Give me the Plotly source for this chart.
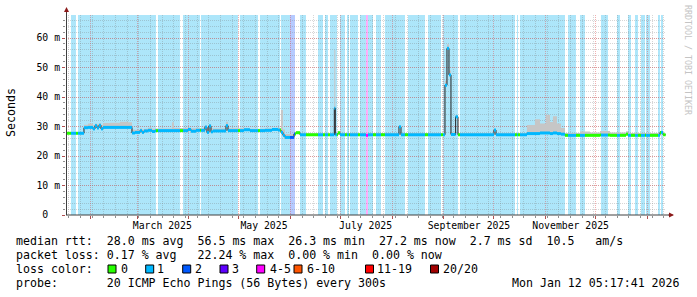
import bisect
import pandas as pd
import plotly.graph_objects as go

MONO = "DejaVu Sans Mono"
W, H = 697, 297
ML, MR, MT, MB = 66, 31, 15, 82
PW, PH = W - ML - MR, H - MT - MB

T_START = "2025-01-17 05:17:41"
T_END = "2026-01-12 05:17:41"
YEAR0 = pd.Timestamp("2025-01-01")

# ---- loss classes -------------------------------------------------------
loss_labels = ["0", "1", "2", "3", "4-5", "6-10", "11-19", "20/20"]
loss_colors = ["#26ff00", "#00b8ff", "#0059ff", "#5e00ff", "#ff00ff", "#ff5500", "#ff0000", "#a10000"]
loss_bg = {1: "rgb(173,230,250)", 2: "rgb(182,202,255)", 4: "rgb(255,172,250)"}

# ---- background loss bands (day of year 2025, 0 = Jan 1) ----------------
band_start = [19.2, 23.4, 71.4, 86.4, 97.2, 120.6, 132.6, 145.2, 150.6, 156.6,
              167.4, 171.6, 174.6, 180.6, 184.8, 186.6, 192.6, 196.2, 197.4, 202.2,
              207.6, 221.4, 233.4, 242.4, 252.6, 286.8, 288.6, 317.4, 324.6, 337.2,
              346.8, 353.4, 357.6, 361.2, 364.2, 371.4, 373.2]
band_end = [22.2, 70.2, 84.6, 96.6, 119.4, 131.4, 144.6, 150.6, 153.6, 160.2,
            170.4, 173.4, 178.8, 183.6, 186.0, 191.4, 196.2, 197.4, 200.4, 205.2,
            219.6, 231.6, 241.2, 251.4, 285.6, 287.4, 315.6, 322.2, 327.6, 341.4,
            348.6, 355.2, 359.4, 363.6, 366.6, 372.6, 374.4]
band_loss = [1, 1, 1, 1, 1, 1, 1, 1, 2, 1,
             1, 1, 1, 1, 1, 1, 1, 4, 1, 1,
             1, 1, 1, 1, 1, 1, 1, 1, 1, 1,
             1, 1, 1, 1, 1, 1, 1]

# ---- median rtt (ms) and smoke top (ms) --------------------------------
med_day = [16.8, 27.0, 29.4, 32.4, 33.6, 34.8, 36.0, 37.2, 38.4, 42.6,
           48.6, 53.4, 55.8, 57.6, 60.6, 61.8, 63.0, 65.4, 67.8, 69.6,
           79.8, 81.0, 89.4, 91.2, 94.2, 99.6, 100.8, 102.0, 103.2, 104.4,
           112.2, 113.4, 123.0, 126.6, 135.6, 139.8, 143.4, 145.2, 146.4, 147.6,
           153.0, 154.2, 156.6, 177.2, 177.8, 179.4, 180.6, 196.2, 197.4, 216.0,
           217.2, 243.6, 244.8, 246.0, 247.2, 250.0, 251.4, 273.0, 274.2, 292.8,
           297.6, 300.6, 304.2, 306.6, 308.4, 310.8, 313.2, 315.6, 324.6, 330.6,
           336.6, 342.6, 352.2, 353.4, 372.6, 374.4]
med_ms = [27.7, 29.6, 29.7, 29.2, 30.3, 29.5, 30.4, 29.2, 29.7, 29.7,
          29.7, 29.7, 27.8, 28.0, 28.6, 28.0, 28.5, 28.7, 28.3, 28.6,
          28.6, 28.6, 29.0, 28.4, 28.7, 29.8, 28.0, 30.2, 28.2, 28.5,
          30.3, 28.6, 28.9, 28.6, 28.7, 29.0, 28.8, 28.0, 27.0, 26.3,
          27.5, 27.9, 27.2, 36.2, 27.2, 27.9, 27.2, 27.0, 27.2, 29.9,
          27.2, 44.0, 56.5, 47.5, 27.3, 33.3, 27.2, 28.8, 27.2, 27.6,
          27.6, 27.8, 27.8, 27.6, 27.8, 27.6, 27.4, 27.0, 27.0, 27.0,
          27.1, 27.0, 27.4, 27.0, 28.0, 27.2]
smoke_top = [28.0, 30.6, 31.0, 30.4, 31.0, 30.8, 31.2, 30.5, 31.2, 31.3,
             31.6, 31.4, 29.0, 28.8, 29.4, 29.0, 29.2, 29.6, 29.2, 29.3,
             31.4, 29.5, 29.6, 29.4, 29.4, 30.3, 29.5, 30.8, 29.4, 29.3,
             31.6, 29.4, 29.4, 29.2, 29.3, 29.5, 29.5, 35.6, 29.0, 27.5,
             28.2, 28.3, 27.7, 55.9, 27.8, 28.2, 27.8, 27.6, 27.8, 30.2,
             27.8, 45.5, 57.9, 49.0, 28.0, 33.8, 27.7, 29.0, 27.7, 30.5,
             32.5, 31.0, 34.0, 31.5, 33.5, 31.0, 29.5, 27.8, 28.3, 28.0,
             28.5, 28.0, 28.4, 27.8, 28.5, 27.5]
data_end_day = 376.0

# ---- axis labels --------------------------------------------------------
month_label_dates = ["2025-03-16", "2025-05-16", "2025-07-16", "2025-09-16", "2025-11-16"]
month_label_text = ["March 2025", "May 2025", "July 2025", "September 2025", "November 2025"]
y_tick_vals = [0, 10, 20, 30, 40, 50, 60]
y_tick_text = ["0\u00a0\u00a0", "10 m", "20 m", "30 m", "40 m", "50 m", "60 m"]

legend_rows = [
    "median rtt:  28.0 ms avg  56.5 ms max  26.3 ms min  27.2 ms now  2.7 ms sd  10.5   am/s",
    "packet loss: 0.17 % avg   22.24 % max  0.00 % min  0.00 % now",
    "loss color:",
    "probe:       20 ICMP Echo Pings (56 Bytes) every 300s",
]
stamp = "Mon Jan 12 05:17:41 2026"


def ts(d):
    return (YEAR0 + pd.Timedelta(days=d)).strftime("%Y-%m-%d %H:%M:%S")


def loss_at(day):
    for s, e, c in zip(band_start, band_end, band_loss):
        if s <= day < e:
            return c
    return 0


def px(x):
    return (x - ML) / PW


def py(y):
    return (MT + PH - y) / PH


fig = go.Figure()

# smoke
xs_all = [ts(d) for d in med_day] + [ts(data_end_day)]
fig.add_trace(go.Scatter(x=xs_all, y=med_ms + [med_ms[-1]], mode="lines",
                         line=dict(width=0, shape="hv"), hoverinfo="skip", showlegend=False))
fig.add_trace(go.Scatter(x=xs_all, y=smoke_top + [smoke_top[-1]], mode="lines",
                         line=dict(width=0, shape="hv"), fill="tonexty",
                         fillcolor="#c6c6c6", hoverinfo="skip", showlegend=False))
# median line
fig.add_trace(go.Scatter(x=xs_all, y=med_ms + [med_ms[-1]], mode="lines",
                         line=dict(width=1, shape="hv", color="#202020"),
                         hoverinfo="skip", showlegend=False))

# colored median by loss
bps = sorted(set([d for d in med_day + band_start + band_end
                  if med_day[0] <= d <= data_end_day] + [data_end_day]))
segs = {c: ([], []) for c in range(len(loss_labels))}
for a, b in zip(bps[:-1], bps[1:]):
    i = bisect.bisect_right(med_day, a) - 1
    v = med_ms[i]
    c = loss_at((a + b) / 2)
    segs[c][0].extend([ts(a), ts(b), None])
    segs[c][1].extend([v, v, None])
for c, (sx, sy) in segs.items():
    if sx:
        fig.add_trace(go.Scatter(x=sx, y=sy, mode="lines",
                                 line=dict(width=3, color=loss_colors[c]),
                                 hoverinfo="skip", showlegend=False))

# dummy traces for the extra overlay axes
for ax in ("x2", "x3"):
    fig.add_trace(go.Scatter(x=[T_START], y=[0], xaxis=ax, mode="markers",
                             marker=dict(opacity=0), hoverinfo="skip", showlegend=False))

shapes = []
for s, e, c in zip(band_start, band_end, band_loss):
    shapes.append(dict(type="rect", xref="x", yref="paper", x0=ts(s), x1=ts(e), y0=0, y1=1,
                       fillcolor=loss_bg[c], line=dict(width=0), layer="below"))

# axis lines
shapes.append(dict(type="line", xref="paper", yref="paper", x0=px(66.5), x1=px(66.5),
                   y0=py(215), y1=py(10), line=dict(color="#404040", width=1)))
shapes.append(dict(type="line", xref="paper", yref="paper", x0=px(66), x1=px(670),
                   y0=py(215), y1=py(215), line=dict(color="#404040", width=1)))

# legend squares
sq_x = [108, 145.7, 182.7, 220, 256.7, 294, 365.5, 430.5]
for c, x0 in enumerate(sq_x):
    shapes.append(dict(type="rect", xref="paper", yref="paper", x0=px(x0), x1=px(x0 + 8),
                       y0=py(273), y1=py(265), fillcolor=loss_colors[c],
                       line=dict(color="black", width=1), layer="above"))

ann = []
# arrows
ann.append(dict(xref="paper", yref="paper", x=px(66.5), y=py(7), ax=0, ay=7,
                showarrow=True, arrowhead=2, arrowsize=1, arrowwidth=1, arrowcolor="#8b1a1a", text=""))
ann.append(dict(xref="paper", yref="paper", x=px(674), y=py(215), ax=-7, ay=0,
                showarrow=True, arrowhead=2, arrowsize=1, arrowwidth=1, arrowcolor="#8b1a1a", text=""))

row_y = [241, 255, 269, 283]
for t, yy in zip(legend_rows, row_y):
    ann.append(dict(xref="paper", yref="paper", x=px(15), y=py(yy), xanchor="left", yanchor="middle",
                    text=t.replace(" ", "\u00a0"), showarrow=False, borderpad=0,
                    font=dict(family=MONO, size=11.6, color="black")))
ann.append(dict(xref="paper", yref="paper", x=px(681), y=py(283), xanchor="right", yanchor="middle",
                text=stamp.replace(" ", "\u00a0"), showarrow=False, borderpad=0,
                font=dict(family=MONO, size=11.6, color="black")))
lab_x = [120, 156, 193.5, 230.5, 268.5, 305.5, 376, 441.5]
for c, x0 in enumerate(lab_x):
    ann.append(dict(xref="paper", yref="paper", x=px(x0), y=py(269), xanchor="left", yanchor="middle",
                    text=loss_labels[c], showarrow=False, borderpad=0,
                    font=dict(family=MONO, size=11.6, color="black")))
ann.append(dict(xref="paper", yref="paper", x=px(11), y=py(113), xanchor="center", yanchor="middle",
                text="Seconds", textangle=-90, showarrow=False, borderpad=0,
                font=dict(family=MONO, size=11.6, color="black")))
ann.append(dict(xref="paper", yref="paper", x=px(688), y=py(60), xanchor="center", yanchor="middle",
                text="RRDTOOL / TOBI OETIKER", textangle=90, showarrow=False, borderpad=0,
                font=dict(family=MONO, size=8.3, color="#c4c4c4")))

month_starts = [d.strftime("%Y-%m-%d") for d in pd.date_range("2025-02-01", "2026-01-01", freq="MS")]
weeks = [d.strftime("%Y-%m-%d") for d in pd.date_range("2025-01-19", "2026-01-11", freq="W-SUN")
         if d.day != 1]

RED = "rgba(225,80,80,0.45)"
GRAY = "rgba(120,120,120,0.30)"
DASH = "1px,1px"

fig.update_layout(
    width=W, height=H, margin=dict(l=ML, r=MR, t=MT, b=MB),
    paper_bgcolor="white", plot_bgcolor="white", showlegend=False,
    shapes=shapes, annotations=ann,
    # month-start grid (red)
    xaxis=dict(type="date", range=[T_START, T_END], tickmode="array",
               tickvals=month_starts, showticklabels=False,
               showgrid=True, gridcolor=RED, griddash=DASH, gridwidth=1,
               ticks="outside", ticklen=3, tickcolor="#b05050",
               zeroline=False, showline=False),
    # weekly grid (gray)
    xaxis2=dict(type="date", range=[T_START, T_END], overlaying="x", anchor="y", side="bottom",
                tickmode="array", tickvals=weeks, showticklabels=False,
                showgrid=True, gridcolor=GRAY, griddash=DASH, gridwidth=1,
                ticks="outside", ticklen=2, tickcolor="#909090", zeroline=False, showline=False),
    # month labels
    xaxis3=dict(type="date", range=[T_START, T_END], overlaying="x", anchor="y", side="bottom",
                tickmode="array", tickvals=month_label_dates, ticktext=month_label_text,
                showgrid=False, ticks="", zeroline=False, showline=False, ticklabelstandoff=3,
                tickfont=dict(family=MONO, size=9.8, color="black")),
    yaxis=dict(range=[0, 67.8], tickmode="array", tickvals=y_tick_vals, ticktext=y_tick_text,
               showgrid=True, gridcolor=RED, griddash=DASH, gridwidth=1,
               ticks="outside", ticklen=3, tickcolor="#b05050", zeroline=False, showline=False,
               tickfont=dict(family=MONO, size=9.8, color="black"),
               minor=dict(tickmode="linear", tick0=0, dtick=2, showgrid=True,
                          gridcolor=GRAY, griddash=DASH, gridwidth=1,
                          ticks="outside", ticklen=2, tickcolor="#909090")),
)

fig.write_html("out.html")
